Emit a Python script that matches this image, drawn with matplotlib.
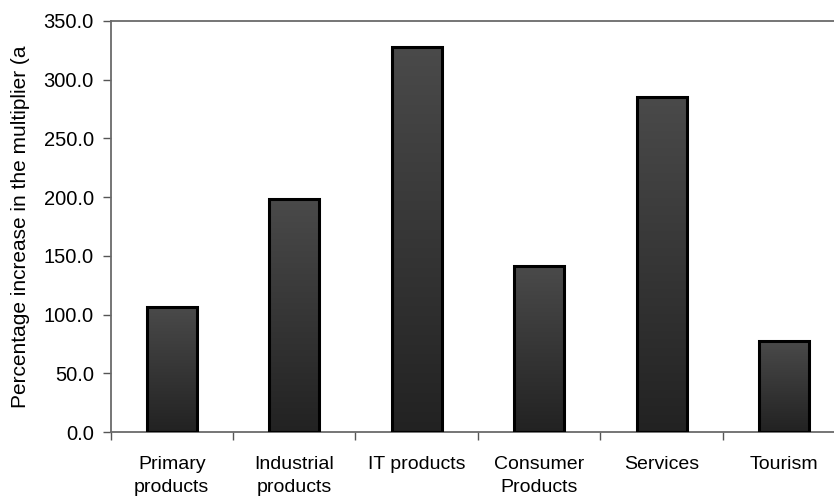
import numpy as np
import matplotlib.pyplot as plt
from matplotlib.colors import LinearSegmentedColormap

plt.rcParams['font.family'] = ['Liberation Sans', 'DejaVu Sans']

categories = ['Primary\nproducts', 'Industrial\nproducts', 'IT products',
              'Consumer\nProducts', 'Services', 'Tourism']
values = [106.5, 198.5, 328.0, 141.0, 285.0, 77.5]
yticks = [0, 50, 100, 150, 200, 250, 300, 350]

fig = plt.figure(figsize=(8.34, 4.99), dpi=100)
ax = fig.add_axes([110.5 / 834, 67 / 499, 735 / 834, 411 / 499])

x = np.arange(len(categories))
bars = ax.bar(x, values, width=0.41, color='none', edgecolor='black',
              linewidth=2.2, zorder=3)

# vertical gradient inside each bar
cmap = LinearSegmentedColormap.from_list('g', ['#222222', '#4a4a4a'])
grad = np.linspace(0, 1, 256).reshape(-1, 1)
for b in bars:
    x0, y0 = b.get_x(), b.get_y()
    w, h = b.get_width(), b.get_height()
    im = ax.imshow(grad, cmap=cmap, origin='lower', aspect='auto',
                   extent=[x0, x0 + w, y0, y0 + h], zorder=2)
    im.set_clip_path(b)

ax.set_xlim(-0.5, len(categories) - 0.5)
ax.set_ylim(0, 350)
ax.set_yticks(yticks)
ax.set_yticklabels([f'{v:.1f}' for v in yticks], fontsize=14.5)

ax.set_xticks(np.arange(len(categories) + 1) - 0.5)
ax.set_xticklabels([])
ax.set_xticks(x, minor=True)
ax.set_xticklabels(categories, minor=True, fontsize=14, linespacing=1.5)
ax.tick_params(axis='x', which='minor', length=0, pad=17)
ax.tick_params(axis='x', which='major', length=6, width=1, color='#555555',
               direction='out')
ax.tick_params(axis='y', length=6, width=1, color='#555555', direction='out',
               pad=6)

for s in ['top', 'left', 'bottom', 'right']:
    ax.spines[s].set_color('#6a6a6a')
    ax.spines[s].set_linewidth(1.3)

ax.set_ylabel('Percentage increase in the multiplier (a', fontsize=15)
ax.yaxis.set_label_coords(-0.109, 0.5)

fig.savefig('out.png', dpi=100)
